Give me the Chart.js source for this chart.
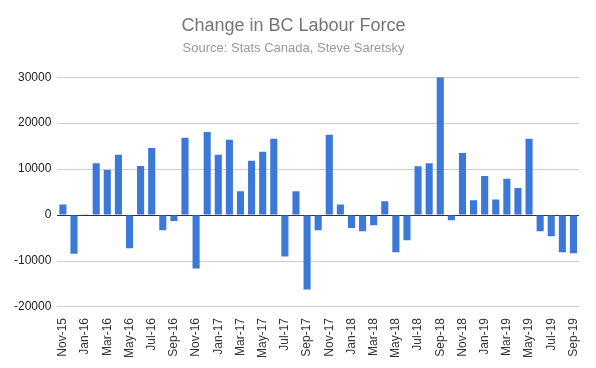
<!DOCTYPE html>
<html>
<head>
<meta charset="utf-8">
<script src="https://cdn.jsdelivr.net/npm/chart.js@4"></script>
<style>
  html, body { margin: 0; padding: 0; background: #fff; }
  #wrap { width: 596px; height: 368px; position: relative; }
</style>
</head>
<body>
<div id="wrap"><canvas id="chart"></canvas></div>
<script>
// monthly labels, Nov 2015 .. Sep 2019
const months = ['Nov-15', 'Dec-15',
  'Jan-16', 'Feb-16', 'Mar-16', 'Apr-16', 'May-16', 'Jun-16', 'Jul-16', 'Aug-16', 'Sep-16', 'Oct-16', 'Nov-16', 'Dec-16',
  'Jan-17', 'Feb-17', 'Mar-17', 'Apr-17', 'May-17', 'Jun-17', 'Jul-17', 'Aug-17', 'Sep-17', 'Oct-17', 'Nov-17', 'Dec-17',
  'Jan-18', 'Feb-18', 'Mar-18', 'Apr-18', 'May-18', 'Jun-18', 'Jul-18', 'Aug-18', 'Sep-18', 'Oct-18', 'Nov-18', 'Dec-18',
  'Jan-19', 'Feb-19', 'Mar-19', 'Apr-19', 'May-19', 'Jun-19', 'Jul-19', 'Aug-19', 'Sep-19'];

const labourChange = [2300, -8400,
  200, 11300, 9800, 13100, -7200, 10700, 14600, -3300, -1300, 16800, -11600, 18100,
  13100, 16400, 5200, 11800, 13800, 16600, -9000, 5200, -16200, -3300, 17500, 2300,
  -2800, -3500, -2200, 3000, -8100, -5500, 10600, 11300, 30000, -1100, 13500, 3200,
  8500, 3400, 7900, 5900, 16600, -3500, -4600, -8100, -8300];

const yTicks = [-20000, -10000, 0, 10000, 20000, 30000];

const font = "'Liberation Sans', Arial, sans-serif";

new Chart(document.getElementById('chart'), {
  type: 'bar',
  data: {
    labels: months,
    datasets: [{
      label: 'Change',
      data: labourChange,
      backgroundColor: '#3c78d8',
      borderWidth: 0,
      categoryPercentage: 1,
      barPercentage: 0.64
    }]
  },
  options: {
    responsive: true,
    maintainAspectRatio: false,
    animation: false,
    layout: { padding: { left: 8, right: 17, top: 4, bottom: 7 } },
    plugins: {
      legend: { display: false },
      tooltip: { enabled: false },
      title: {
        display: true,
        text: 'Change in BC Labour Force',
        color: '#757575',
        font: { size: 18, family: font, weight: 'normal' },
        padding: { top: 11, bottom: 4 }
      },
      subtitle: {
        display: true,
        text: 'Source: Stats Canada, Steve Saretsky',
        color: '#999999',
        font: { size: 13, family: font },
        padding: { bottom: 21 }
      }
    },
    scales: {
      y: {
        min: yTicks[0],
        max: yTicks[yTicks.length - 1],
        afterBuildTicks: axis => { axis.ticks = yTicks.map(v => ({ value: v })); },
        border: { display: false },
        grid: {
          color: c => c.tick && c.tick.value === 0 ? '#333333' : '#cccccc',
          lineWidth: 1,
          drawTicks: false
        },
        ticks: {
          color: '#222',
          font: { size: 12, family: font },
          padding: 6,
          callback: v => String(v)
        }
      },
      x: {
        border: { display: false },
        grid: { display: false },
        ticks: {
          autoSkip: false,
          maxRotation: 90,
          minRotation: 90,
          color: '#333',
          font: { size: 12, family: font },
          callback: (v, i) => i % 2 === 0 ? months[i] : ''
        }
      }
    }
  }
});
</script>
</body>
</html>
